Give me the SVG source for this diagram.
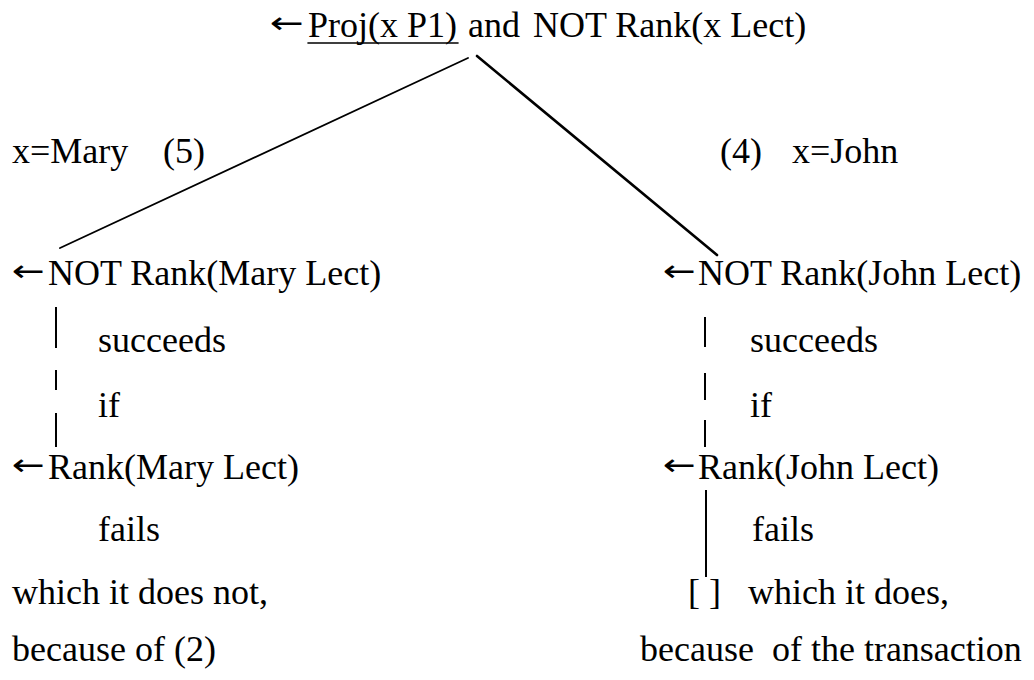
<svg xmlns="http://www.w3.org/2000/svg" width="1034" height="680" viewBox="0 0 1034 680">
<style>
text{font-family:"Liberation Serif","Times New Roman",serif;font-size:36px;fill:#000}
.arr{font-family:"DejaVu Sans","Liberation Sans",sans-serif;font-size:30px}
.ln{stroke:#000;fill:none;stroke-linecap:round}
.dash{stroke:#000;stroke-width:2}
</style>
<rect width="1034" height="680" fill="#fff"/>
<g id="connectors">
<line class="ln" x1="468" y1="58" x2="60" y2="248" stroke-width="1.8"/>
<line class="ln" x1="477" y1="56" x2="717" y2="255" stroke-width="2.6"/>
<line class="ln" x1="308" y1="43" x2="458" y2="43" stroke-width="1.6"/>
<g class="dash">
<line x1="56" y1="307" x2="56" y2="348"/>
<line x1="56" y1="370" x2="56" y2="390"/>
<line x1="56" y1="413" x2="56" y2="447"/>
<line x1="705" y1="317" x2="705" y2="347"/>
<line x1="705" y1="373" x2="705" y2="400"/>
<line x1="705" y1="420" x2="705" y2="447"/>
<line x1="706" y1="490" x2="706" y2="577"/>
</g>
</g>
<g id="root">
<text class="arr" x="270" y="33" textLength="34" lengthAdjust="spacingAndGlyphs">←</text>
<text x="308" y="37">Proj(x P1)</text>
<text x="468" y="37">and</text>
<text x="533" y="37">NOT Rank(x Lect)</text>
</g>
<g id="label-mary"><text x="12" y="163">x=Mary</text><text x="163" y="163">(5)</text></g>
<g id="label-john"><text x="720" y="163">(4)</text><text x="792" y="163">x=John</text></g>
<g id="left-branch">
<text class="arr" x="12" y="281" textLength="33" lengthAdjust="spacingAndGlyphs">←</text>
<text x="48" y="285">NOT Rank(Mary Lect)</text>
<text x="98" y="352">succeeds</text>
<text x="98" y="417">if</text>
<text class="arr" x="12" y="475" textLength="33" lengthAdjust="spacingAndGlyphs">←</text>
<text x="48" y="479">Rank(Mary Lect)</text>
<text x="98" y="541">fails</text>
<text x="12" y="604">which it does not,</text>
<text x="12" y="661">because of (2)</text>
</g>
<g id="right-branch">
<text class="arr" x="663" y="281" textLength="33" lengthAdjust="spacingAndGlyphs">←</text>
<text x="698" y="285">NOT Rank(John Lect)</text>
<text x="750" y="352">succeeds</text>
<text x="750" y="417">if</text>
<text class="arr" x="663" y="475" textLength="33" lengthAdjust="spacingAndGlyphs">←</text>
<text x="698" y="479">Rank(John Lect)</text>
<text x="752" y="541">fails</text>
<text x="688" y="604">[ ]</text>
<text x="748" y="604">which it does,</text>
<text x="640" y="661" xml:space="preserve">because  of the transaction</text>
</g>
</svg>
